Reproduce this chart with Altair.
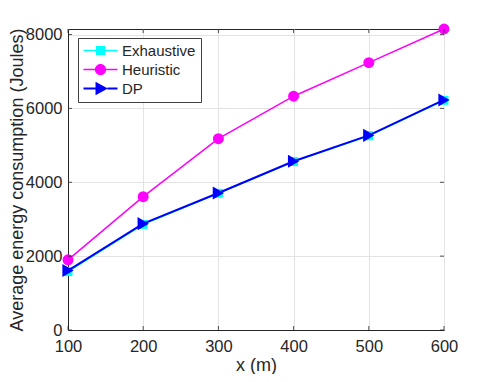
import altair as alt
import pandas as pd

x_vals = [100, 200, 300, 400, 500, 600]
exhaustive = [1580, 2860, 3700, 4560, 5260, 6220]
heuristic = [1900, 3610, 5180, 6330, 7240, 8150]
dp = [1610, 2880, 3710, 4570, 5270, 6230]
series_names = ["Exhaustive", "Heuristic", "DP"]
series_colors = ["#00FFFF", "#FF00FF", "#0000FF"]
y_ticks = [0, 2000, 4000, 6000, 8000]

rows = []
for name, vals in zip(series_names, [exhaustive, heuristic, dp]):
    for xv, yv in zip(x_vals, vals):
        rows.append({"x": xv, "y": yv, "series": name})
df = pd.DataFrame(rows)

W, H = 376, 301
FONT = "Liberation Sans"
TXT = "#262626"

xs = alt.Scale(domain=[100, 600], nice=False, zero=False)
ys = alt.Scale(domain=[0, 8150], nice=False, zero=False)

X = alt.X("x:Q", scale=xs, axis=alt.Axis(values=x_vals, format="d", title="x (m)", grid=True,
                                       ticks=False, labelPadding=8, titlePadding=2,
                                       labelFlush=False, labelOverlap=False))
Y = alt.Y("y:Q", scale=ys, axis=alt.Axis(values=y_ticks, format="d",
                                       title="Average energy consumption (Joules)", grid=True,
                                       ticks=False, labelPadding=6,
                                       titleX=-60, titleY=H / 2, titleAngle=-90,
                                       titleAlign="center", titleBaseline="top",
                                       labelFlush=False, labelOverlap=False))

base = alt.Chart(df)
styles = {
    "Exhaustive": dict(shape="square", size=80, width=1.5),
    "Heuristic": dict(shape="circle", size=120, width=1.5),
    "DP": dict(shape="triangle-right", size=170, width=2),
}
layers = []
for name, col in zip(series_names, series_colors):
    st = styles[name]
    f = base.transform_filter(alt.datum.series == name)
    layers.append(f.mark_line(color=col, strokeWidth=st["width"]).encode(x=X, y=Y))
    layers.append(f.mark_point(filled=True, shape=st["shape"], size=st["size"], color=col,
                               opacity=1, strokeWidth=0).encode(x=X, y=Y))

legend_paths = [
    "M-2.43,-0.107H-0.66V0.107H-2.43Z M0.66,-0.107H2.43V0.107H0.66Z M-0.66,-0.66H0.66V0.66H-0.66Z",
    "M-2.43,-0.107H-0.8V0.107H-2.43Z M0.8,-0.107H2.43V0.107H0.8Z M-0.8,0A0.8,0.8 0 1,0 0.8,0A0.8,0.8 0 1,0 -0.8,0Z",
    "M-2.43,-0.14H-0.71V0.14H-2.43Z M1,-0.14H2.43V0.14H1Z M-0.71,-0.95L1.05,0L-0.71,0.95Z",
]
leg = alt.Legend(title=None, orient="none", legendX=10, legendY=9, symbolSize=196,
                 symbolOffset=10, labelOffset=14, padding=5, rowPadding=3,
                 labelFont=FONT, labelFontSize=15, labelColor=TXT,
                 strokeColor="#404040", fillColor="white", symbolStrokeWidth=0,
                 symbolOpacity=1)
legend_layer = base.transform_filter("datum.x < 0").mark_point(filled=True, opacity=1).encode(
    x=X, y=Y,
    color=alt.Color("series:N", scale=alt.Scale(domain=series_names, range=series_colors), legend=leg),
    shape=alt.Shape("series:N", scale=alt.Scale(domain=series_names, range=legend_paths), legend=leg),
)

tx = alt.Chart(pd.DataFrame({"x": x_vals}))
ty = alt.Chart(pd.DataFrame({"y": y_ticks}))
tick_col = TXT
ticks = [
    tx.mark_rule(color=tick_col, strokeWidth=0.8).encode(x=X, y=alt.value(H), y2=alt.value(H - 4)),
    tx.mark_rule(color=tick_col, strokeWidth=0.8).encode(x=X, y=alt.value(0), y2=alt.value(4)),
    ty.mark_rule(color=tick_col, strokeWidth=0.8).encode(y=Y, x=alt.value(0), x2=alt.value(4)),
    ty.mark_rule(color=tick_col, strokeWidth=0.8).encode(y=Y, x=alt.value(W), x2=alt.value(W - 4)),
]

chart = alt.layer(*layers, *ticks, legend_layer).properties(
    width=W, height=H,
    autosize=alt.AutoSizeParams(type="none"),
    padding={"left": 60, "top": 21, "right": 39, "bottom": 44},
).configure_view(stroke=TXT, strokeWidth=1).configure_axis(
    labelFont=FONT, labelFontSize=16.5, labelColor=TXT,
    titleFont=FONT, titleFontSize=18, titleColor=TXT, titleFontWeight="normal",
    domainColor=TXT, domainWidth=1, gridColor="#e3e3e3", gridWidth=1,
)

chart.save("out.html", embed_options={"renderer": "svg", "actions": False})
